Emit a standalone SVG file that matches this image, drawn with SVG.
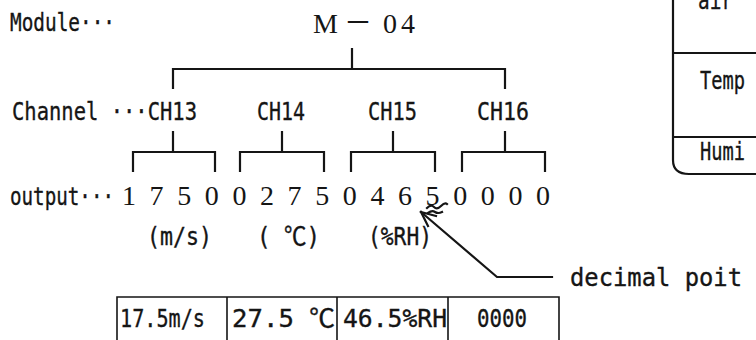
<svg xmlns="http://www.w3.org/2000/svg" width="756" height="340" viewBox="0 0 756 340">
<style>
  .g { font-family: "DejaVu Sans Mono", "Liberation Mono", "Noto Sans CJK JP", monospace; font-size: 25px; fill: #151515; stroke: #151515; stroke-width: 0.35px; }
  .s { font-family: "Liberation Serif", "Noto Sans CJK JP", serif; font-size: 28px; fill: #151515; }
  .ln { stroke: #151515; stroke-width: 2.2; fill: none; stroke-linecap: square; }
  .tb { stroke: #151515; stroke-width: 1.6; fill: none; }
</style>
<rect width="756" height="340" fill="#ffffff"/>

<g id="labels">
  <text class="g" x="10" y="31" textLength="105" lengthAdjust="spacingAndGlyphs">Module···</text>
  <text class="g" x="12" y="120" textLength="185" lengthAdjust="spacingAndGlyphs">Channel ···CH13</text>
  <text class="g" x="10" y="205" textLength="104" lengthAdjust="spacingAndGlyphs">output···</text>
</g>

<g id="module">
  <text class="s" x="313 344 383 401" y="33">M－04</text>
</g>

<g id="channels">
  <text class="g" x="257" y="120" textLength="48" lengthAdjust="spacingAndGlyphs">CH14</text>
  <text class="g" x="368" y="120" textLength="49" lengthAdjust="spacingAndGlyphs">CH15</text>
  <text class="g" x="477" y="120" textLength="52" lengthAdjust="spacingAndGlyphs">CH16</text>
</g>

<g id="output">
  <text class="s" text-anchor="middle" y="205" x="129 156.6 184.2 211.8 239.4 267 294.6 322.2 349.8 377.4 405 432.6 460.2 487.8 515.4 543">1750027504650000</text>
</g>

<g id="units">
  <text class="g" x="147" y="245" textLength="65" lengthAdjust="spacingAndGlyphs">(m/s)</text>
  <text class="g" x="257" y="245" textLength="63" lengthAdjust="spacingAndGlyphs">( ℃)</text>
  <text class="g" x="368" y="245" textLength="64" lengthAdjust="spacingAndGlyphs">(%RH)</text>
</g>

<g id="table">
  <path class="tb" d="M117 340 V297 H559 V340 M227 297 V340 M337 297 V340 M448 297 V340"/>
  <text class="g" x="120" y="327" textLength="85" lengthAdjust="spacingAndGlyphs">17.5m/s</text>
  <text class="g" x="232" y="327" textLength="103" lengthAdjust="spacingAndGlyphs">27.5 ℃</text>
  <text class="g" x="343" y="327" textLength="104" lengthAdjust="spacingAndGlyphs">46.5%RH</text>
  <text class="g" x="477" y="327" textLength="50" lengthAdjust="spacingAndGlyphs">0000</text>
</g>

<g id="legend-box">
  <path class="ln" d="M673 0 V160 Q673 174 689 174 H760 M673 53 H760 M673 137 H760" stroke-width="2"/>
  <text class="g" x="698" y="9" textLength="35" lengthAdjust="spacingAndGlyphs">air</text>
  <text class="g" x="700" y="89" textLength="45" lengthAdjust="spacingAndGlyphs">Temp</text>
  <text class="g" x="700" y="160" textLength="45" lengthAdjust="spacingAndGlyphs">Humi</text>
</g>

<g id="decimal-label">
  <text class="g" x="570" y="286" textLength="172" lengthAdjust="spacingAndGlyphs">decimal poit</text>
</g>

<g id="connectors">
  <path class="ln" d="M352 49 V69 M173 88 V69 H505 V88"/>
  <path class="ln" d="M173 132 V152 M133 171 V152 H215 V171"/>
  <path class="ln" d="M282 132 V152 M240 171 V152 H324 V171"/>
  <path class="ln" d="M393 132 V152 M351 171 V152 H435 V171"/>
  <path class="ln" d="M505 132 V152 M462 171 V152 H545 V171"/>
  <path class="ln" d="M421 212 L497 277 H552" stroke-width="2"/>
  <path class="ln" d="M421 212 L436 216 M421 212 L428 226" stroke-width="2"/>
  <path class="ln" d="M427 208 q4 -4 7 -1 t7 -1 t6 -2 M428 213 q4 -3 7 -1 t7 0" stroke-width="1.3"/>
</g>
</svg>
